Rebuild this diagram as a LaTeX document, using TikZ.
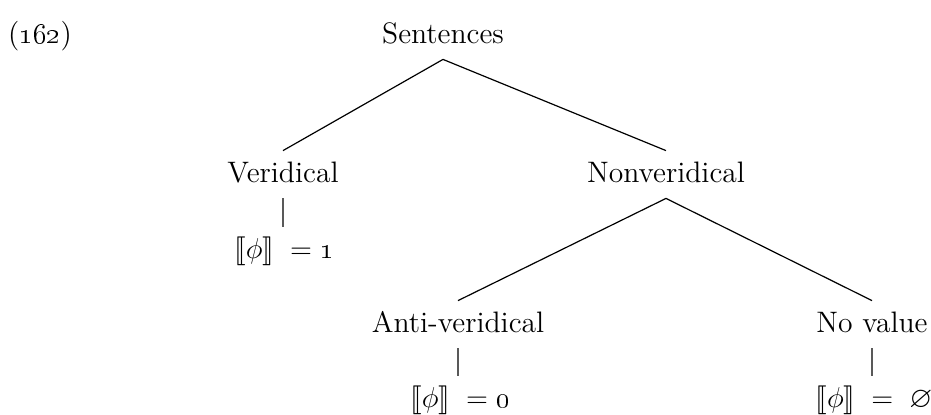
\documentclass[tikz,border=0pt]{standalone}
\usepackage{amssymb}
\usepackage{stmaryrd}
\begin{document}
\begin{tikzpicture}[x=0.5pt,y=-0.5pt,
  lbl/.style={anchor=base,inner sep=0pt,text height=15.5pt,text depth=8pt,font=\fontsize{14.8}{17}\selectfont},
  edge/.style={draw=black,line width=0.6pt},
  stem/.style={draw=black!65,line width=0.8pt}]
\useasboundingbox (0,0) rectangle (931,414);
\node[lbl] (ex) at (40,43) {(\oldstylenums{162})};
\node[lbl] (S) at (443,43) {Sentences};
\node[lbl] (V) at (283,182) {Veridical};
\node[lbl] (N) at (666,182) {Nonveridical};
\node[lbl] (A) at (458,332) {Anti-veridical};
\node[lbl] (NV) at (872,332) {No value};
\node[lbl] (Vv) at (284,258) {$\llbracket\phi\rrbracket\;=\;$\oldstylenums{1}};
\node[lbl] (Av) at (460,407) {$\llbracket\phi\rrbracket\;=\;$\oldstylenums{0}};
\node[lbl] (NVv) at (874,407) {$\llbracket\phi\rrbracket\;=\;\varnothing$};
\draw[edge] (S.south) -- (V.north);
\draw[edge] (S.south) -- (N.north);
\draw[edge] (N.south) -- (A.north);
\draw[edge] (N.south) -- (NV.north);
\draw[stem] (V.south) -- (V.south |- Vv.north);
\draw[stem] (A.south) -- (A.south |- Av.north);
\draw[stem] (NV.south) -- (NV.south |- NVv.north);
\end{tikzpicture}
\end{document}
